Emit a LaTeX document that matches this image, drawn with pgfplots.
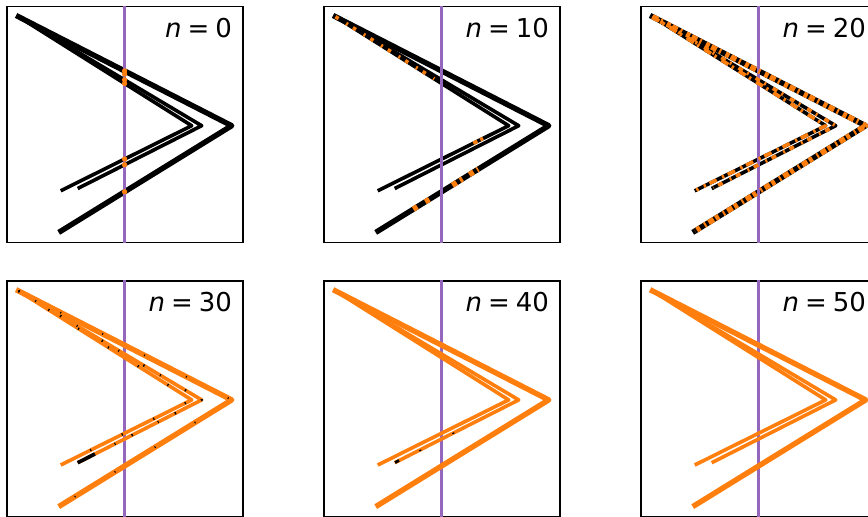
\documentclass[border=0pt]{standalone}
\usepackage{fontspec}
\setmainfont{DejaVu Sans}
\usepackage{pgfplots}
\usepackage{pgfplotstable}
\pgfplotsset{compat=1.18}

\definecolor{orng}{HTML}{FF7F0E}
\definecolor{purp}{HTML}{9467BD}

% fibre curves, in pixels from the top left corner of each panel
\pgfplotstableread{
x y
11.2 10.2
224.4 119.2
53.7 224.5
}\curveA
\pgfplotstableread{
x y
11.2 10.2
194.4 119.2
72.0 181.2
}\curveC
\pgfplotstableread{
x y
11.2 10.2
184.4 119.2
55.0 183.5
}\curveD

\pgfplotsset{
  panel/.style={width=118pt, height=118pt, scale only axis,
    xmin=0, xmax=236, ymin=0, ymax=236, y dir=reverse,
    ticks=none, axis line style={line width=0.9pt},
    anchor=north west, clip=true},
  curve/.style={line width=1.8pt, line cap=rect, line join=round},
  outer/.style={line width=2.7pt},
  plane/.style={purp, line width=1.5pt},
  dash/.style={orng, line width=1.8pt, line cap=butt, line join=round},
}

\newcommand{\fibres}[1]{%
  \addplot[curve, outer, #1] table {\curveA};
  \addplot[curve, #1] table {\curveC};
  \addplot[curve, #1] table {\curveD};
}
\newcommand{\plane}{\addplot[plane] coordinates {(117.3,-10) (117.3,250)};}
\newcommand{\lbl}[1]{\node[anchor=base east, inner sep=0pt,
  font=\fontsize{13}{15}\selectfont] at (axis cs:225,31.2)
  {\textit{n}\kern3pt=\kern3pt#1};}

\begin{document}
\begin{tikzpicture}
\useasboundingbox (0,0) rectangle (434pt,-258pt);
\clip (0,0) rectangle (434pt,-258pt);

% n = 0
\begin{axis}[panel, at={(3.65pt,-3.25pt)}]
  \fibres{black}
  \plane
  \addplot[orng, only marks, mark=*, mark size=1.1pt] coordinates {
    (117.3,64.4) (117.3,67.5) (117.3,73.3) (117.3,77.0)
    (117.3,152.5) (117.3,158.3) (117.3,185.3)};
  \lbl{0}
\end{axis}

% n = 10
\begin{axis}[panel, at={(162.15pt,-3.25pt)}]
  \fibres{black}
  \plane
  \addplot[dash, dash pattern=on 1.8pt off 4.5pt on 1pt off 3pt] coordinates {(11.2,10.2) (110,72.4)};
  \addplot[dash] coordinates {(149,136.8) (153,134.8)};
  \addplot[dash, dash pattern=on 1.5pt off 0.8pt on 1.5pt off 1pt] coordinates {(156,133.3) (160,131.3)};
  \addplot[dash, outer] coordinates {(89,202.7) (93,200.2)};
  \addplot[dash, outer] coordinates {(101,195.3) (105,192.9)};
  \addplot[dash, outer, dash pattern=on 2.5pt off 2pt on 1.5pt off 4pt] coordinates {(128,178.7) (154,162.6)};
  \lbl{10}
\end{axis}

% n = 20
\begin{axis}[panel, at={(320.65pt,-3.25pt)}]
  \fibres{black}
  \plane
  \addplot[dash, outer, dash pattern=on 3pt off 1.5pt on 1pt off 2.5pt on 2pt off 1pt] table {\curveA};
  \addplot[dash, dash pattern=on 2.5pt off 2.5pt on 1pt off 4pt] table {\curveC};
  \addplot[dash, dash pattern=on 4pt off 2pt on 1.2pt off 3pt] table {\curveD};
  \lbl{20}
\end{axis}

% n = 30
\begin{axis}[panel, at={(3.65pt,-140.35pt)}]
  \plane
  \fibres{orng}
  \addplot[curve, line cap=butt, black, line width=1.2pt, dash pattern=on 0.7pt off 9pt on 0.5pt off 14pt] table {\curveC};
  \addplot[curve, line cap=butt, black, line width=1.2pt, dash pattern=on 0.6pt off 17pt] table {\curveD};
  \addplot[curve, line cap=butt, black, line width=0.9pt, dash pattern=on 0.5pt off 23pt] table {\curveA};
  \addplot[curve, black] coordinates {(72.0,181.2) (86,174.1)};
  \lbl{30}
\end{axis}

% n = 40
\begin{axis}[panel, at={(162.15pt,-140.35pt)}]
  \plane
  \fibres{orng}
  \addplot[curve, black, line width=1.4pt] coordinates {(72.0,181.2) (73.5,180.4)};
  \addplot[black, line width=0.6pt] coordinates {(95,170.3) (97,169.3)};
  \addplot[black, line width=0.6pt] coordinates {(128,153.0) (130,152.0)};
  \lbl{40}
\end{axis}

% n = 50
\begin{axis}[panel, at={(320.65pt,-140.35pt)}]
  \plane
  \fibres{orng}
  \lbl{50}
\end{axis}
\end{tikzpicture}
\end{document}
